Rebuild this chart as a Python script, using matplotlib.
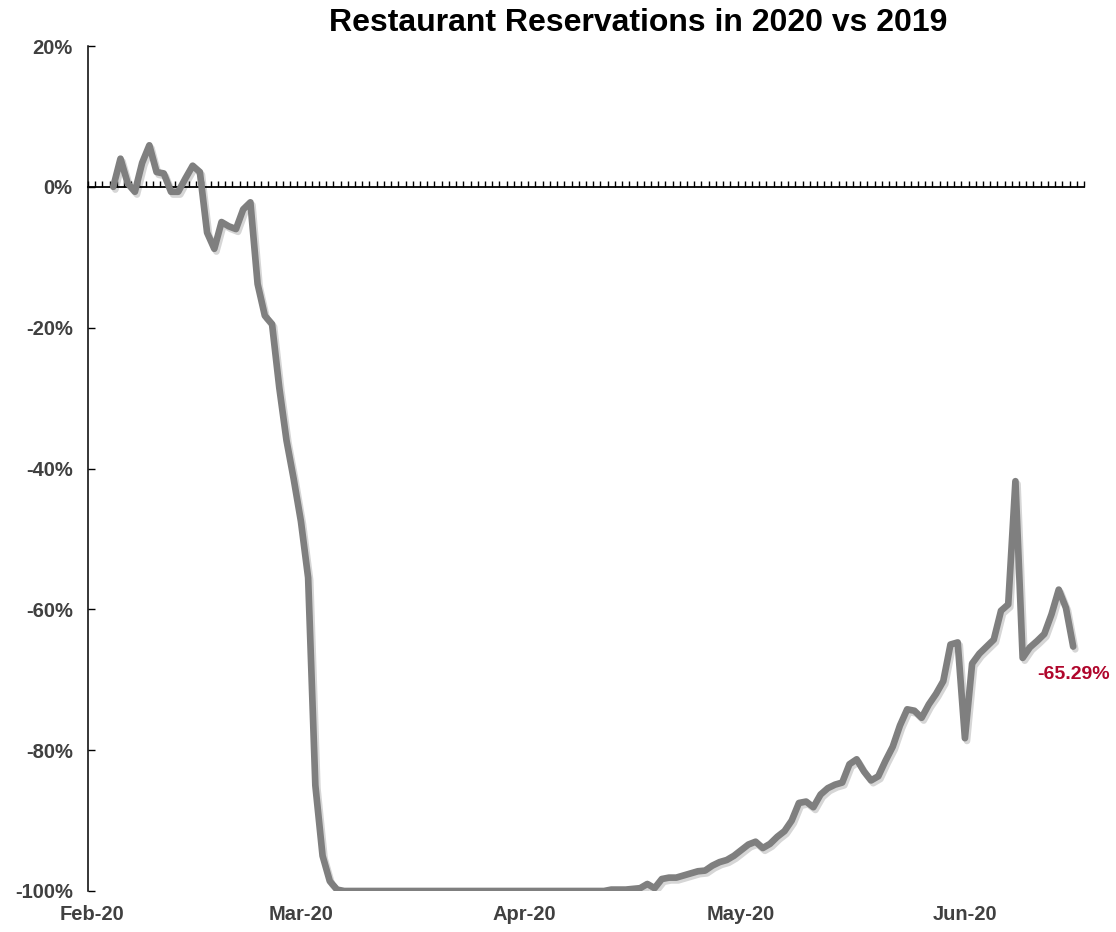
import matplotlib
matplotlib.use("Agg")
import matplotlib.pyplot as plt
import matplotlib.dates as mdates
import matplotlib.patheffects as pe
from matplotlib.ticker import FuncFormatter, FixedLocator, NullFormatter
import pandas as pd

# daily change in seated diners, 2020 vs same day 2019 (%)
dates = pd.date_range("2020-02-04", "2020-06-16", freq="D")
change = [
    0.0, 4.0, 0.5, -0.7, 3.4, 5.9, 2.1, 1.9, -0.7, -0.7,
    1.2, 3.0, 2.1, -6.5, -8.8, -5.0, -5.6, -6.0, -3.2, -2.2,
    -13.8, -18.3, -19.5, -28.5, -36.0, -41.5, -47.5, -55.5, -85.0, -95.0,
    -98.6, -99.8, -100.0, -100.0, -100.0, -100.0, -100.0, -100.0, -100.0, -100.0,
    -100.0, -100.0, -100.0, -100.0, -100.0, -100.0, -100.0, -100.0, -100.0, -100.0,
    -100.0, -100.0, -100.0, -100.0, -100.0, -100.0, -100.0, -100.0, -100.0, -100.0,
    -100.0, -100.0, -100.0, -100.0, -100.0, -100.0, -100.0, -100.0, -100.0, -99.8,
    -99.8, -99.8, -99.7, -99.6, -99.0, -99.6, -98.3, -98.1, -98.1, -97.8,
    -97.5, -97.2, -97.1, -96.4, -95.9, -95.6, -95.0, -94.2, -93.4, -93.0,
    -93.9, -93.3, -92.3, -91.5, -90.0, -87.5, -87.3, -88.1, -86.3, -85.4,
    -84.9, -84.6, -82.0, -81.3, -83.0, -84.3, -83.7, -81.5, -79.5, -76.5,
    -74.2, -74.4, -75.4, -73.5, -72.0, -70.2, -65.0, -64.7, -78.3, -67.7,
    -66.3, -65.3, -64.3, -60.2, -59.3, -41.8, -66.9, -65.4, -64.5, -63.5,
    -60.7, -57.2, -59.8, -65.29,
]
month_starts = pd.to_datetime(["2020-02-01", "2020-03-01", "2020-04-01",
                               "2020-05-01", "2020-06-01"])
month_labels = ["Feb-20", "Mar-20", "Apr-20", "May-20", "Jun-20"]
y_ticks = [20, 0, -20, -40, -60, -80, -100]

label_font = ["Liberation Sans", "DejaVu Sans"]
gray_txt = "#404040"

fig = plt.figure(figsize=(11.16, 9.32), dpi=100)
ax = fig.add_axes([88 / 1116, 1 - 891 / 932, (1084 - 88) / 1116, (891 - 46) / 932])

ax.plot(dates, change, color="#7f7f7f", lw=4.8, solid_joinstyle="round",
        solid_capstyle="round", zorder=3,
        path_effects=[pe.SimpleLineShadow(offset=(1.5, -2), shadow_color="#000000",
                                          alpha=0.16),
                      pe.Normal()])

x0 = mdates.date2num(pd.Timestamp("2020-02-01")) - 0.5
x1 = mdates.date2num(pd.Timestamp("2020-06-17")) + 0.5
ax.set_xlim(x0, x1)
ax.set_ylim(-100, 20)

# y axis
ax.set_yticks(y_ticks)
ax.yaxis.set_major_formatter(FuncFormatter(lambda v, p: f"{v:.0f}%"))
ax.tick_params(axis="y", direction="in", length=5, width=1, pad=11,
               labelsize=14.5, labelcolor=gray_txt)
for lab in ax.get_yticklabels():
    lab.set_fontweight("bold")
    lab.set_family(label_font)

# month labels along the bottom
ax.set_xticks(mdates.date2num(month_starts))
ax.set_xticklabels(month_labels, fontsize=14.5, fontweight="bold",
                   color=gray_txt, family=label_font)
ax.tick_params(axis="x", length=0, pad=10)

for side in ["top", "right", "bottom"]:
    ax.spines[side].set_visible(False)
ax.spines["left"].set_linewidth(1.1)

# zero line with a tick for every day
zero_axis = ax.secondary_xaxis(100 / 120)
for sp in zero_axis.spines.values():
    sp.set_linewidth(1.3)
day_edges = [x0 + i for i in range(int(round(x1 - x0)) + 1)]
zero_axis.xaxis.set_major_locator(FixedLocator(day_edges))
zero_axis.xaxis.set_major_formatter(NullFormatter())
zero_axis.tick_params(axis="x", direction="out", length=4, width=1,
                      labeltop=False, labelbottom=False)

# value of the last day
ax.annotate(f"{change[-1]:.2f}%", xy=(dates[-1], change[-1]),
            xytext=(0, -28), textcoords="offset pixels",
            ha="center", va="center", fontsize=14, fontweight="bold",
            color="#b0062c", family=label_font)

fig.text(638 / 1116, 1 - 23 / 932, "Restaurant Reservations in 2020 vs 2019",
         ha="center", va="center", fontsize=23, fontweight="bold",
         family=label_font)

fig.savefig("out.png", dpi=100, facecolor="white")
